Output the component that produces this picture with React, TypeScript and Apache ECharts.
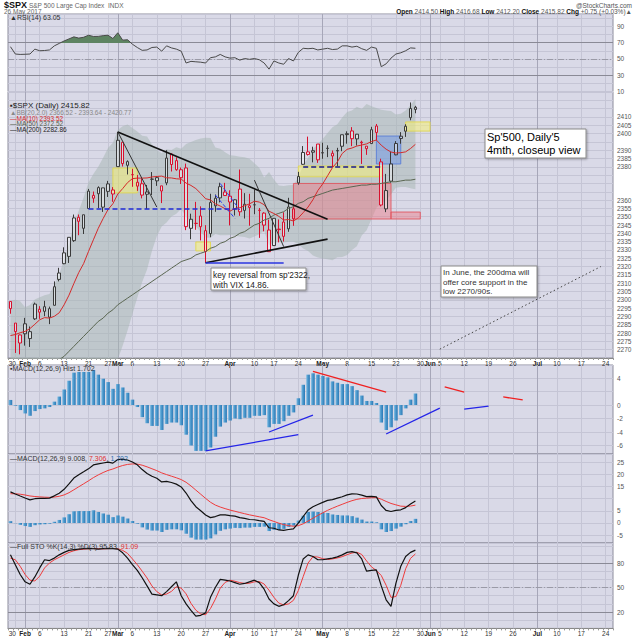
import React, { useEffect, useRef } from 'react';
import * as echarts from 'echarts';

const FONT = "'Liberation Sans', Arial, sans-serif";

// ---------- categories (trading days, 2017) ----------
const dates = ['01-27','01-30','01-31','02-01','02-02','02-03','02-06','02-07','02-08','02-09','02-10','02-13','02-14','02-15','02-16','02-17','02-21','02-22','02-23','02-24','02-27','02-28','03-01','03-02','03-03','03-06','03-07','03-08','03-09','03-10','03-13','03-14','03-15','03-16','03-17','03-20','03-21','03-22','03-23','03-24','03-27','03-28','03-29','03-30','03-31','04-03','04-04','04-05','04-06','04-07','04-10','04-11','04-12','04-13','04-17','04-18','04-19','04-20','04-21','04-24','04-25','04-26','04-27','04-28','05-01','05-02','05-03','05-04','05-05','05-08','05-09','05-10','05-11','05-12','05-15','05-16','05-17','05-18','05-19','05-22','05-23','05-24','05-25','05-26','05-30','05-31','06-01','06-02','06-05','06-06','06-07','06-08','06-09','06-12','06-13','06-14','06-15','06-16','06-19','06-20','06-21','06-22','06-23','06-26','06-27','06-28','06-29','06-30','07-03','07-05','07-06','07-07','07-10','07-11','07-12','07-13','07-14','07-17','07-18','07-19','07-20','07-21','07-24','07-25'];

const tickLabels: Record<string, string> = {
  '01-30': '30', '02-01': 'Feb', '02-06': '6', '02-13': '13', '02-21': '21', '02-27': '27',
  '03-01': 'Mar', '03-06': '6', '03-13': '13', '03-20': '20', '03-27': '27',
  '04-03': 'Apr', '04-10': '10', '04-17': '17', '04-24': '24',
  '05-01': 'May', '05-08': '8', '05-15': '15', '05-22': '22', '05-30': '30',
  '06-01': 'Jun', '06-05': '5', '06-12': '12', '06-19': '19', '06-26': '26',
  '07-03': 'Jul', '07-10': '10', '07-17': '17', '07-24': '24',
};
const monthStarts = ['02-01', '03-01', '04-03', '05-01', '06-01', '07-03'];

// ---------- price ----------
const open = [2299.02,2286.01,2274.02,2285.59,2276.69,2288.54,2294.28,2295.87,2289.55,2296.70,
2312.27,2321.72,2326.12,2335.58,2349.64,2343.01,2354.91,2361.11,2367.50,2355.73,
2365.23,2366.08,2380.13,2394.75,2380.92,2375.23,2370.74,2369.81,2363.49,2372.52,
2371.56,2368.55,2370.34,2387.71,2383.71,2378.24,2379.32,2343.00,2345.97,2350.42,
2329.11,2339.79,2356.54,2361.31,2364.82,2362.34,2354.76,2366.59,2353.79,2356.59,
2357.16,2353.92,2352.15,2341.98,2332.62,2342.53,2346.79,2342.69,2354.74,2370.33,
2381.51,2388.98,2389.70,2393.68,2388.50,2391.05,2386.50,2389.79,2392.37,2399.94,
2401.58,2396.79,2394.84,2392.44,2393.98,2404.55,2382.95,2354.69,2371.37,2387.21,
2397.04,2401.41,2409.54,2414.50];
const high = [2299.02,2286.01,2279.09,2289.14,2283.97,2298.31,2296.18,2299.40,2295.91,2311.08,
2319.23,2331.58,2337.58,2351.30,2351.31,2351.16,2366.71,2365.13,2368.26,2367.34,
2371.54,2367.79,2400.98,2394.75,2383.89,2378.80,2375.12,2373.09,2369.08,2376.86,
2374.42,2368.55,2390.01,2388.10,2385.71,2379.55,2381.93,2351.81,2358.92,2356.22,
2344.90,2363.78,2363.36,2370.42,2370.35,2365.87,2360.53,2378.36,2364.16,2363.76,
2366.37,2355.22,2352.72,2348.26,2349.14,2348.35,2352.63,2361.37,2356.18,2376.98,
2392.48,2398.16,2392.10,2393.68,2394.49,2392.93,2389.82,2391.43,2399.29,2401.36,
2403.87,2399.74,2395.72,2392.44,2404.05,2405.77,2384.87,2375.74,2389.06,2395.46,
2400.85,2405.58,2418.71,2416.68];
const low = [2291.62,2268.04,2267.21,2272.44,2271.65,2287.88,2288.57,2290.16,2285.38,2296.61,
2311.10,2321.42,2322.17,2334.81,2338.87,2339.58,2354.91,2358.34,2355.09,2352.87,
2361.87,2358.96,2380.13,2380.17,2375.39,2367.98,2365.51,2361.01,2354.54,2363.04,
2368.52,2358.18,2368.94,2377.18,2377.64,2369.66,2341.90,2336.45,2342.13,2335.74,
2322.25,2337.63,2352.94,2358.58,2362.60,2344.73,2350.72,2350.52,2348.90,2344.56,
2351.50,2337.25,2341.18,2328.95,2332.51,2334.54,2335.05,2340.91,2344.51,2369.19,
2381.15,2386.78,2382.68,2382.36,2384.83,2385.82,2379.75,2380.35,2389.38,2393.92,
2392.44,2392.79,2381.74,2387.19,2393.94,2396.05,2356.21,2352.72,2370.43,2386.92,
2393.88,2397.99,2408.01,2412.20];
const close = [2294.69,2280.90,2278.87,2279.55,2280.85,2297.42,2292.56,2293.08,2294.67,2307.87,
2316.10,2328.25,2337.58,2349.25,2347.22,2351.16,2365.38,2362.82,2363.81,2367.34,
2369.75,2363.64,2395.96,2381.92,2383.12,2375.31,2368.39,2362.98,2364.87,2372.60,
2373.47,2365.45,2385.26,2381.38,2378.25,2373.47,2344.02,2348.45,2345.96,2343.98,
2341.59,2358.57,2361.13,2368.06,2362.72,2358.84,2360.16,2352.95,2357.49,2355.54,
2357.16,2353.78,2344.93,2328.95,2349.01,2342.19,2338.17,2355.84,2348.69,2374.15,
2388.61,2387.45,2388.77,2384.20,2388.33,2391.17,2388.13,2389.52,2399.29,2399.38,
2396.92,2399.63,2394.44,2390.90,2402.32,2400.67,2357.03,2365.72,2381.73,2394.02,
2398.42,2404.39,2415.07,2415.82];
const closeBeforeStart = 2296.68;

const ma10 = [2278.5,2279.1,2280.2,2281.0,2282.7,2285.3,2288.0,2289.3,2289.0,2290.1,
2292.2,2297.0,2302.8,2309.8,2316.4,2321.8,2329.1,2336.1,2343.0,2348.9,
2354.3,2357.8,2363.6,2366.9,2370.5,2372.9,2373.2,2373.2,2373.3,2373.9,
2374.2,2374.4,2373.4,2373.3,2372.8,2372.6,2370.2,2368.8,2366.9,2364.0,
2360.8,2360.1,2357.7,2356.4,2354.8,2353.3,2355.0,2355.4,2356.6,2357.7,
2359.3,2358.8,2357.2,2353.3,2351.9,2350.2,2348.0,2348.3,2347.4,2349.3,
2352.4,2355.8,2360.2,2365.7,2369.7,2374.6,2379.5,2382.9,2388.0,2390.5,
2391.3,2392.5,2393.1,2393.8,2395.2,2396.1,2393.0,2390.6,2388.9,2388.3,
2388.5,2389.0,2391.0,2393.52];
const ma50 = [2250,2252,2254,2255,2256,2258,2259,2260,2261,2262,
2264,2266,2269,2272,2275,2278,2281,2284,2287,2289,
2292,2294,2297,2299,2301,2303,2305,2307,2309,2311,
2313,2315,2317,2319,2321,2323,2324,2325,2327,2328,
2329,2331,2332,2334,2335,2337,2338,2340,2341,2343,
2345,2346,2348,2349,2351,2352,2353,2355,2356,2358,
2359,2361,2362,2363,2364,2365,2366,2366.5,2367,2367.5,
2368,2368.5,2369,2369,2369.5,2369.5,2370,2370.5,2371,2371,
2371.5,2372,2372,2372.52];
const ma200Last = 2282.86;
const bbUpper = [2299.3,2300.1,2299.1,2295.5,2296.9,2300.2,2301.5,2302.7,2303.5,2309.1,
2315.4,2324.1,2333.5,2345.4,2353.6,2361.6,2370.6,2375.7,2380.0,2385.5,
2391.3,2394.4,2402.2,2404.4,2405.5,2403.4,2401.2,2398.7,2398.2,2393.4,
2390.3,2388.1,2390.5,2390.1,2391.7,2390.8,2393.7,2395.0,2396.1,2397.0,
2397.5,2397.3,2391.6,2390.9,2388.8,2387.0,2386.6,2386.1,2385.8,2384.9,
2382.1,2379.5,2373.5,2376.9,2372.4,2368.8,2368.5,2368.9,2369.0,2373.5,
2380.9,2385.3,2390.7,2393.5,2396.8,2400.4,2403.8,2405.6,2409.7,2412.9,
2413.9,2416.2,2414.7,2417.8,2416.5,2415.4,2414.3,2413.8,2413.5,2411.4,
2411.9,2413.8,2417.1,2420.77];
const bbLower = [2247.3,2248.1,2251.1,2255.5,2256.9,2256.2,2257.5,2258.7,2259.5,2257.1,
2255.4,2252.1,2249.5,2245.4,2245.6,2245.6,2246.6,2249.7,2252.0,2253.5,
2255.3,2260.4,2264.2,2272.4,2281.5,2291.4,2301.2,2310.7,2318.2,2329.4,
2338.3,2344.1,2346.5,2350.1,2351.7,2354.8,2349.7,2347.0,2344.1,2341.0,
2337.5,2337.3,2339.6,2338.9,2338.8,2339.0,2338.6,2338.1,2337.8,2336.9,
2338.1,2339.5,2341.5,2332.9,2334.4,2334.8,2334.5,2334.9,2335.0,2333.5,
2330.9,2329.3,2326.7,2325.5,2324.8,2324.4,2323.8,2325.6,2325.7,2326.9,
2329.9,2332.2,2338.7,2341.8,2348.5,2355.4,2358.3,2359.8,2363.5,2367.4,
2367.9,2367.8,2367.1,2366.52];

// ---------- indicators ----------
const rsi = [65,56,55.5,55.7,56,62,60,60.3,61,66,
69,72,74.5,77,75.5,76.5,79,77.5,77.6,78.5,
79,75,82,73,73.5,68,64,60.5,61,64,
64.5,59.5,66,63.5,62,59.5,45,47,46.5,46,
45,51.5,52.5,55.5,52.5,51,51.5,48.5,50.5,49.5,
50.5,49,45,37.5,47.5,45,43.5,50.5,47.5,58,
63,62.5,63,61,62,63,61.5,62,66,66,
64.5,65.5,62.5,60.5,64.5,63,40.5,44,51,56,
57.5,60,63.5,63.05];
const macd = [12.75,11.88,11.04,10.23,9.48,9.95,10.10,10.08,10.20,11.13,
12.19,13.81,16.01,18.41,19.74,20.96,22.19,23.79,24.21,24.59,
24.94,24.54,26.01,26.16,25.81,25.01,23.84,21.89,20.31,19.14,
18.36,16.84,17.04,16.59,15.94,14.79,12.29,9.19,6.69,4.99,
3.29,2.21,2.64,3.34,3.29,3.01,2.81,2.19,1.91,1.44,
1.34,0.94,0.66,-1.96,-2.16,-2.86,-3.06,-2.66,-2.44,-0.09,
2.66,5.29,6.66,7.59,8.46,9.29,9.56,10.19,10.76,11.54,
11.94,11.89,11.44,10.79,10.94,10.71,7.16,5.14,4.71,5.14,
5.4,6.3,7.75,9.008];
const signal = [12.0,11.98,11.79,11.48,11.08,10.85,10.70,10.58,10.50,10.63,
10.94,11.51,12.41,13.61,14.84,16.06,17.29,18.59,19.71,20.69,
21.54,22.14,22.91,23.56,24.01,24.21,24.14,23.69,23.01,22.24,
21.46,20.54,19.84,19.19,18.54,17.79,16.69,15.19,13.49,11.79,
10.09,8.51,7.34,6.54,5.89,5.31,4.81,4.29,3.81,3.34,
2.94,2.54,2.16,1.34,0.64,-0.06,-0.66,-1.06,-1.34,-1.09,
-0.34,0.79,1.96,3.09,4.16,5.19,6.06,6.89,7.66,8.44,
9.14,9.69,10.04,10.19,10.34,10.41,9.76,8.84,8.01,7.44,
6.9,6.8,6.95,7.306];
const hist = [0.75,-0.1,-0.75,-1.25,-1.6,-0.9,-0.6,-0.5,-0.3,0.5,
1.25,2.3,3.6,4.8,4.9,4.9,4.9,5.2,4.5,3.9,
3.4,2.4,3.1,2.6,1.8,0.8,-0.3,-1.8,-2.7,-3.1,
-3.1,-3.7,-2.8,-2.6,-2.6,-3.0,-4.4,-6.0,-6.8,-6.8,
-6.8,-6.3,-4.7,-3.2,-2.6,-2.3,-2.0,-2.1,-1.9,-1.9,
-1.6,-1.6,-1.5,-3.3,-2.8,-2.8,-2.4,-1.6,-1.1,1.0,
3.0,4.5,4.7,4.5,4.3,4.1,3.5,3.3,3.1,3.1,
2.8,2.2,1.4,0.6,0.6,0.3,-2.6,-3.7,-3.3,-2.3,
-1.5,-0.5,0.8,1.702];
const stoK = [90,78,66,57,54,63,74,84,83,86,
90,93,95.5,96.5,97,97.5,98,97.5,97,97.5,
98,97.5,97,92.5,86,78,71,62,52,42,
41,40,45,51,57,40,30,22,15,16,
19,38,50,60,59,58,56,54,55,57,
59,56,48,36,30,27,29,34,40,65,
85,90,88,84,84,85,86,87.5,90,93,
94,92.5,85,70,71,71.5,52,35,27,55,
76,88,93,95.83];
const stoD = [86,84,76,66,59,58,64,74,80,84,
87,90,93,95,96.3,97,97.5,97.7,97.5,97.3,
97.6,97.8,97.5,95.5,91.8,85,78,70,61.7,52,
45,41,42,45.3,51,49.3,42.3,30.7,22.3,17.7,
16.7,24.3,35.7,49.3,56.3,59,57.7,56,55,55.3,
57,57.3,54.3,46.7,38,31,28.7,30,34.3,46.3,
63.3,80,87.7,87.3,85.3,84.3,85,86.2,87.8,90.2,
92.3,93.2,90.5,82.5,75.3,70.8,64.8,52.8,38,39,
52.7,73,85.7,91.09];

// ---------- hand-drawn annotations (data coordinates: day index, value) ----------
const mainLines: [string, number, number, number, number][] = [
  ['bold', 22, 2401, 65, 2348.5],
  ['thin', 22, 2401, 30, 2355.8],
  ['thin', 50, 2372, 56, 2332],
  ['bold', 40, 2322.3, 65, 2336.5],
  ['blue', 40, 2322.3, 56, 2322.3],
  ['blueDash', 16, 2354.6, 47, 2354.6],
  ['blueDashThin', 43, 2370, 47, 2354],
  ['blueDashThin', 42, 2363, 46, 2349],
  ['navyDash', 60, 2379.9, 76, 2379.9],
  ['dotted', 88, 2270.3, 121, 2320],
];
const mainBoxes: [string, number, number, number, number][] = [
  ['yellow', 21, 2379.3, 26, 2364.3],
  ['yellow', 38, 2334.8, 41, 2329.4],
  ['pink', 58, 2370, 78, 2348.6],
  ['pink', 78, 2352.8, 84, 2348.6],
  ['yellow', 59, 2380.5, 76, 2374],
  ['blue', 75, 2398.5, 80, 2381.7],
  ['yellow', 81, 2407, 86, 2401.5],
];
const histLines: [string, number, number, number, number][] = [
  ['red', 62, 5.0, 77, 1.9],
  ['blue', 53, -4.0, 62, -1.5],
  ['blue', 40, -6.8, 59, -4.4],
  ['blue', 77, -4.3, 88, -0.45],
  ['red', 89, 2.7, 93, 1.9],
  ['blue', 93, -0.6, 98, -0.15],
  ['red', 101, 1.2, 105, 0.75],
];

// ---------- styles ----------
const GRID_BG = '#d9d9e7';
const LIGHT = '#c5c5d5';
const DARK = '#a6a6b8';
const RED = '#d8102e';
const lineStyles: Record<string, any> = {
  bold: { color: '#111', width: 1.6, type: 'solid' },
  thin: { color: '#333', width: 1, type: 'solid' },
  blue: { color: '#2a35e0', width: 1.6, type: 'solid' },
  blueDash: { color: '#1f2bd6', width: 1.5, type: [5, 3] },
  blueDashThin: { color: '#2a3cf0', width: 1, type: [4, 2] },
  navyDash: { color: '#1a1a90', width: 1.5, type: [5, 3] },
  dotted: { color: '#444', width: 1, type: [1.5, 2.5] },
};
const histLineStyles: Record<string, any> = {
  red: { color: '#f02020', width: 1.3, type: 'solid' },
  blue: { color: '#2424e8', width: 1.3, type: 'solid' },
};
const boxStyles: Record<string, any> = {
  yellow: { color: 'rgba(246,240,120,0.55)', borderColor: 'rgba(225,215,80,0.9)', borderWidth: 1 },
  pink: { color: 'rgba(238,120,130,0.45)', borderColor: 'rgba(225,80,90,0.85)', borderWidth: 1 },
  blue: { color: 'rgba(110,150,230,0.5)', borderColor: 'rgba(90,125,215,0.9)', borderWidth: 1 },
};

const L = close.length - 1;
const f2 = (v: number) => v.toFixed(2);
const f3 = (v: number) => v.toFixed(3);

function buildOption(): any {
  const monthSet = new Set(monthStarts);
  const tickDates = dates.filter((d) => tickLabels[d]);
  const vLines = tickDates.map((d) => ({
    xAxis: d,
    lineStyle: { color: monthSet.has(d) ? DARK : LIGHT, width: 1, type: 'solid' },
  }));

  const gridDefs = [
    { top: 14, height: 77.6 },
    { top: 92, height: 266 },
    { top: 365, height: 89 },
    { top: 454, height: 89 },
    { top: 543, height: 85.4 },
  ];
  const grids = gridDefs.map((g) => ({ ...g, left: 8, right: 27, show: true, backgroundColor: GRID_BG, borderColor: '#8c8c9c', borderWidth: 1 }));

  const xAxis = grids.map((_, gi) => {
    const showL = gi === 1 || gi === 4;
    return {
      type: 'category', gridIndex: gi, data: dates, boundaryGap: true,
      axisLine: { show: showL, lineStyle: { color: '#888' } },
      axisTick: { show: showL, interval: 0, length: 2, lineStyle: { color: '#999' } },
      axisLabel: {
        show: showL, interval: 0, fontSize: 6.5, color: '#333', margin: 2, fontFamily: FONT,
        formatter: (v: string, idx: number) => {
          const t = tickLabels[v];
          if (!t) return '';
          if (monthSet.has(v)) return `{m|${t}}`;
          return idx === 1 ? `{f|${t}}` : t;
        },
        rich: {
          m: { fontWeight: 'bold', fontSize: 6.5, color: '#222', fontFamily: FONT },
          f: { fontSize: 6.5, color: '#333', fontFamily: FONT, padding: [0, 6, 0, 0] },
        },
      },
      splitLine: { show: false },
    };
  });

  // tag values per panel (used to keep axis labels from sitting under the value tags)
  const panelTags: number[][] = [
    [rsi[L]],
    [bbUpper[L], close[L], ma10[L], ma50[L], bbLower[L]],
    [hist[L]],
    [macd[L], signal[L], hist[L]],
    [stoK[L], stoD[L]],
  ];
  const isInt = (v: number) => Math.abs(v - Math.round(v)) < 1e-6;
  const yBase = (gi: number, extra: any, pxPerUnit: number, minGap: number, show: (v: number) => boolean) => ({
    type: 'value', gridIndex: gi, position: 'right',
    axisLine: { show: false }, axisTick: { show: false },
    axisLabel: {
      fontSize: 6.5, color: '#555', margin: 4, fontFamily: FONT,
      formatter: (v: number) => {
        if (!show(v)) return '';
        if (panelTags[gi].some((t) => Math.abs(t - v) * pxPerUnit < minGap)) return '';
        return String(Math.round(v));
      },
    },
    splitLine: { show: true, lineStyle: { color: LIGHT, width: 1 } },
    ...extra,
  });
  const yAxis = [
    yBase(0, { min: 10, max: 105, interval: 10 }, 0.817, 5, (v) => isInt(v) && [10, 30, 50, 70, 90].includes(Math.round(v))),
    yBase(1, { min: 2265, max: 2425, interval: 5 }, 1.6625, 5.5, (v) => v >= 2270 && v <= 2420),
    yBase(2, { min: -7.26, max: 5.93, splitNumber: 6 }, 6.75, 5, (v) => isInt(v) && Math.round(v) % 2 === 0 && v >= -6 && v <= 4),
    yBase(3, { min: -8.2, max: 28.28, splitNumber: 7 }, 2.44, 4, (v) => isInt(v) && Math.round(v) % 5 === 0 && v >= -5 && v <= 25),
    yBase(4, { min: 0, max: 104.5, interval: 10 }, 0.817, 5, (v) => isInt(v) && [20, 50, 80].includes(Math.round(v))),
  ];

  // invisible host series (real data, hidden) that carry marker components
  const host = (gi: number, data: number[], marker: any) => ({
    type: 'line', xAxisIndex: gi, yAxisIndex: gi, data, silent: true, symbol: 'none',
    lineStyle: { opacity: 0 }, itemStyle: { opacity: 0 }, z: 1,
    ...marker,
  });
  const gridMarks = (extra: any[] = []) => ({
    markLine: { silent: true, symbol: ['none', 'none'], z: 1, animation: false, label: { show: false }, data: [...vLines, ...extra] },
  });
  const refLine = (v: number, dark: boolean) => ({
    yAxis: v,
    lineStyle: dark ? { color: '#8a8a96', width: 1.2, type: 'solid' } : { color: '#9a9aa6', width: 1, type: [6, 2, 1, 2] },
  });
  const tag = (v: number, text: string, color: string) => ({
    yAxis: v,
    label: { formatter: text, color, borderColor: color },
  });
  const tagMarks = (items: any[]) => ({
    markLine: {
      silent: true, symbol: ['none', 'none'], z: 7, animation: false,
      lineStyle: { opacity: 0 },
      label: {
        show: true, position: 'end', distance: 1, fontSize: 6, fontFamily: FONT,
        backgroundColor: '#fff', borderWidth: 0.8, padding: [1, 1, 0, 1],
      },
      data: items,
    },
  });
  const segMarks = (list: [string, number, number, number, number][], styles: Record<string, any>) => ({
    markLine: {
      silent: true, symbol: ['none', 'none'], z: 6, animation: false, label: { show: false },
      data: list.map(([k, x1, y1, x2, y2]) => [
        { coord: [dates[x1], y1], lineStyle: styles[k] },
        { coord: [dates[x2], y2], lineStyle: styles[k] },
      ]),
    },
  });

  const barColor = new echarts.graphic.LinearGradient(0, 0, 1, 0, [
    { offset: 0, color: '#7cbbe3' },
    { offset: 0.45, color: '#4b98cc' },
    { offset: 1, color: '#2a78b5' },
  ]);

  const series: any[] = [];
  // RSI panel
  series.push(host(0, rsi, gridMarks([refLine(70, true), refLine(30, true), refLine(50, false)])));
  const rsiAreaIndex = series.length;
  series.push({
    type: 'line', xAxisIndex: 0, yAxisIndex: 0, data: rsi, symbol: 'none', silent: true, z: 2,
    lineStyle: { width: 0 }, areaStyle: { opacity: 1 },
  });
  series.push({
    type: 'line', xAxisIndex: 0, yAxisIndex: 0, data: rsi, symbol: 'none', silent: true, z: 3,
    lineStyle: { color: '#4a4a4a', width: 1 },
  });
  series.push(host(0, rsi, tagMarks([tag(rsi[L], f2(rsi[L]), '#444')])));

  // Main panel
  series.push(host(1, close, gridMarks()));
  series.push({
    type: 'line', xAxisIndex: 1, yAxisIndex: 1, data: bbLower, stack: 'bb', symbol: 'none', silent: true, z: 2,
    lineStyle: { opacity: 0 },
  });
  series.push({
    type: 'line', xAxisIndex: 1, yAxisIndex: 1, data: bbUpper.map((u, i) => u - bbLower[i]), stack: 'bb',
    symbol: 'none', silent: true, z: 2, lineStyle: { opacity: 0 },
    areaStyle: { color: 'rgba(165,182,178,0.5)', opacity: 1 },
  });
  series.push(host(1, close, {
    markArea: {
      silent: true, z: 3, animation: false,
      data: mainBoxes.map(([k, x1, y1, x2, y2]) => [
        { coord: [dates[x1], y1], itemStyle: boxStyles[k] },
        { coord: [dates[x2], y2] },
      ]),
    },
  }));
  const candles = open.map((o, i) => {
    const c = close[i];
    const prev = i === 0 ? closeBeforeStart : close[i - 1];
    const col = c >= prev ? '#3a3a3a' : RED;
    return {
      value: [o, c, low[i], high[i]],
      itemStyle: { color: 'rgba(255,255,255,0.4)', color0: col, borderColor: col, borderColor0: col, borderWidth: 1 },
    };
  });
  series.push({
    type: 'candlestick', xAxisIndex: 1, yAxisIndex: 1, data: candles, barWidth: 3, silent: true, z: 4,
  });
  series.push({
    type: 'line', xAxisIndex: 1, yAxisIndex: 1, data: ma50, symbol: 'none', silent: true, z: 5,
    lineStyle: { color: '#5a6651', width: 1 },
  });
  series.push({
    type: 'line', xAxisIndex: 1, yAxisIndex: 1, data: ma10, symbol: 'none', silent: true, z: 5,
    lineStyle: { color: '#d42a2a', width: 1 },
  });
  series.push(host(1, close, segMarks(mainLines, lineStyles)));
  series.push(host(1, close, tagMarks([
    tag(bbUpper[L], f2(bbUpper[L]), '#777'),
    tag(close[L], f2(close[L]), '#000'),
    tag(ma10[L], f2(ma10[L]), '#d42a2a'),
    tag(ma50[L], f2(ma50[L]), '#5a6651'),
    tag(bbLower[L], f2(bbLower[L]), '#777'),
  ])));

  // MACD histogram panel
  series.push(host(2, hist, gridMarks()));
  series.push({
    type: 'bar', xAxisIndex: 2, yAxisIndex: 2, data: hist, barWidth: '74%', silent: true, z: 3,
    itemStyle: { color: barColor },
  });
  series.push(host(2, hist, segMarks(histLines, histLineStyles)));
  series.push(host(2, hist, tagMarks([tag(hist[L], f3(hist[L]), '#3070b0')])));

  // MACD panel
  series.push(host(3, macd, gridMarks()));
  series.push({
    type: 'bar', xAxisIndex: 3, yAxisIndex: 3, data: hist, barWidth: '74%', silent: true, z: 3,
    itemStyle: { color: barColor },
  });
  series.push({
    type: 'line', xAxisIndex: 3, yAxisIndex: 3, data: signal, symbol: 'none', silent: true, z: 4,
    lineStyle: { color: '#ee3b3b', width: 1 },
  });
  series.push({
    type: 'line', xAxisIndex: 3, yAxisIndex: 3, data: macd, symbol: 'none', silent: true, z: 5,
    lineStyle: { color: '#111', width: 1.2 },
  });
  series.push(host(3, macd, tagMarks([
    tag(macd[L], f3(macd[L]), '#000'),
    tag(signal[L], f3(signal[L]), '#e03030'),
    tag(hist[L], f3(hist[L]), '#3070b0'),
  ])));

  // Stochastics panel
  series.push(host(4, stoK, gridMarks([refLine(80, true), refLine(20, true), refLine(50, false)])));
  series.push({
    type: 'line', xAxisIndex: 4, yAxisIndex: 4, data: stoD, symbol: 'none', silent: true, z: 4,
    lineStyle: { color: '#ee3b3b', width: 1 },
  });
  series.push({
    type: 'line', xAxisIndex: 4, yAxisIndex: 4, data: stoK, symbol: 'none', silent: true, z: 5,
    lineStyle: { color: '#111', width: 1.2 },
  });
  series.push(host(4, stoK, tagMarks([
    tag(stoK[L], f2(stoK[L]), '#000'),
    tag(stoD[L], f2(stoD[L]), '#e03030'),
  ])));

  // ---------- texts ----------
  const txt = (x: number, y: number, text: string, size: number, fill: string, extra: any = {}) => ({
    type: 'text', x, y, z: 100, silent: true,
    style: {
      text, fontSize: size, fontFamily: FONT, fill,
      textVerticalAlign: 'middle', verticalAlign: 'middle', ...extra,
    },
  });
  const rich = (o: Record<string, any>) => {
    const r: any = {};
    Object.keys(o).forEach((k) => { r[k] = { ...o[k], fontFamily: FONT, color: o[k].fill }; });
    return r;
  };
  const chg = close[L] - close[L - 1];
  const pct = (chg / close[L - 1]) * 100;
  const sign = chg >= 0 ? '+' : '';
  const bbMid = (bbUpper[L] + bbLower[L]) / 2;

  const box = (x: number, y: number, w: number, h: number, text: string, size: number, lh: number, fill: string) => [
    {
      type: 'rect', z: 99, silent: true, shape: { x, y, width: w, height: h },
      style: { fill: '#fff', stroke: '#8a8a8a', lineWidth: 1, shadowBlur: 2, shadowOffsetX: 1, shadowOffsetY: 1, shadowColor: 'rgba(0,0,0,0.3)' },
    },
    {
      type: 'text', z: 100, silent: true, x: x + 2, y: y + 1.5,
      style: { text, fontSize: size, lineHeight: lh, fontFamily: FONT, fill, textVerticalAlign: 'top', verticalAlign: 'top' },
    },
  ];

  const graphic: any[] = [
    txt(4, 5, `{b|$SPX} {g|S&P 500 Large Cap Index  INDX}`, 7, '#222', {
      rich: rich({ b: { fontSize: 9, fontWeight: 'bold', fill: '#111' }, g: { fontSize: 6.5, fill: '#666' } }),
    }),
    txt(4, 11.5, '26 May 2017', 6.5, '#666'),
    txt(632, 5, '@StockCharts.com', 6.5, '#555', { textAlign: 'right', align: 'right' }),
    txt(632, 11.5,
      `{b|Open} ${f2(open[L])} {b|High} ${f2(high[L])} {b|Low} ${f2(low[L])} {b|Close} ${f2(close[L])} {b|Chg} ${sign}${chg.toFixed(2)} (${sign}${pct.toFixed(2)}%)▲`,
      6.5, '#555', {
        textAlign: 'right', align: 'right',
        rich: rich({ b: { fontSize: 6.5, fontWeight: 'bold', fill: '#111' } }),
      }),
    txt(10, 17.5, `▲RSI(14) ${f2(rsi[L])}`, 7, '#333'),
    txt(10, 105.5, `▪$SPX (Daily) ${f2(close[L])}`, 8, '#222'),
    txt(10, 112, `▲BB(20,2.0) ${f2(bbLower[L])} - ${f2(bbMid)} - ${f2(bbUpper[L])}`, 6.5, '#888'),
    txt(10, 118, `—MA(10) ${f2(ma10[L])}`, 6.5, '#d42a2a'),
    txt(10, 123.5, `—MA(50) ${f2(ma50[L])}`, 6.5, '#555d4c'),
    txt(10, 129, `—MA(200) ${f2(ma200Last)}`, 6.5, '#222'),
    txt(10, 368.5, `▪MACD(12,26,9) Hist ${f3(hist[L])}`, 7, '#333'),
    txt(10, 458.5, `—MACD(12,26,9) ${f3(macd[L])}, {r|${f3(signal[L])}}, {u|${f3(hist[L])}}`, 7, '#333', {
      rich: rich({ r: { fontSize: 7, fill: '#e03030' }, u: { fontSize: 7, fill: '#3070b0' } }),
    }),
    txt(10, 546.5, `—Full STO %K(14,3) %D(3) ${f2(stoK[L])}, {r|${f2(stoD[L])}}`, 7, '#333', {
      rich: rich({ r: { fontSize: 7, fill: '#e03030' } }),
    }),
    ...box(211, 268, 95, 22, "key reversal from sp'2322,\nwith VIX 14.86.", 8.3, 10, '#222'),
    ...box(485, 129, 101, 29, "Sp'500, Daily'5\n4mth, closeup view", 11, 13, '#000'),
    ...box(441, 266, 96, 31, 'In June, the 200dma will\noffer core support in the\nlow 2270/90s.', 8, 9.7, '#333'),
  ];

  return {
    animation: false,
    backgroundColor: '#fff',
    textStyle: { fontFamily: FONT },
    grid: grids,
    xAxis,
    yAxis,
    visualMap: [{
      type: 'piecewise', show: false, seriesIndex: rsiAreaIndex, dimension: 1,
      pieces: [
        { gte: 0, lte: 70, color: 'rgba(0,0,0,0)' },
        { gt: 70, lte: 200, color: '#5e8462' },
      ],
    }],
    series,
    graphic,
  };
}

export default function App() {
  const ref = useRef<HTMLDivElement>(null);
  useEffect(() => {
    if (!ref.current) return;
    const chart = echarts.init(ref.current, undefined, { renderer: 'svg' });
    chart.setOption(buildOption());
    return () => chart.dispose();
  }, []);
  return (
    <div
      ref={ref}
      style={{ position: 'fixed', left: 0, top: 0, width: 640, height: 640, background: '#fff' }}
    />
  );
}
